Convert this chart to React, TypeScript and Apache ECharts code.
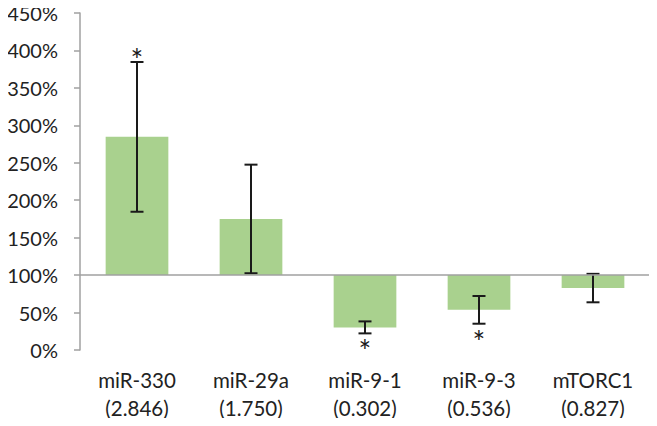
import React, { useEffect, useRef } from "react";
import * as echarts from "echarts";

const geneNames = ["miR-330", "miR-29a", "miR-9-1", "miR-9-3", "mTORC1"];
const foldChanges = [2.846, 1.75, 0.302, 0.536, 0.827];
const errorValues = [100, 72.5, 8, 18.5, 19];
const significant = [true, false, true, true, false];
const yTicks = [0, 50, 100, 150, 200, 250, 300, 350, 400, 450];

const FONT = "Lato, 'Noto Sans', sans-serif";

export default function App() {
  const ref = useRef<HTMLDivElement>(null);
  useEffect(() => {
    if (!ref.current) return;
    const chart = echarts.init(ref.current, null, { renderer: "svg" });
    const categories = geneNames.map((n, i) => `${n}\n(${foldChanges[i].toFixed(3)})`);
    const percents = foldChanges.map((f) => Math.round(f * 1000) / 10);
    const barData = percents.map((v, i) => [i, v]);
    const errData = percents.map((v, i) => [i, v, errorValues[i], significant[i] ? 1 : 0]);

    chart.setOption({
      animation: false,
      grid: { left: 80, right: 7, top: 10, bottom: 76, containLabel: false },
      xAxis: {
        type: "category",
        data: categories,
        axisLine: { show: false },
        axisTick: { show: false },
        axisLabel: {
          interval: 0,
          margin: 16,
          lineHeight: 28,
          fontSize: 20.5,
          color: "#222",
          fontFamily: FONT,
        },
      },
      yAxis: {
        type: "value",
        min: yTicks[0],
        max: yTicks[yTicks.length - 1],
        interval: 50,
        splitLine: { show: false },
        axisLine: { show: true, lineStyle: { color: "#a0a0a0", width: 1.5 } },
        axisTick: { show: true, length: 6, lineStyle: { color: "#a0a0a0", width: 1.5 } },
        axisLabel: {
          formatter: "{value}%",
          margin: 22,
          fontSize: 20,
          lineHeight: 20,
          padding: [6, 0, 0, 0],
          color: "#222",
          fontFamily: FONT,
        },
      },
      series: [
        {
          type: "custom",
          data: barData,
          z: 2,
          renderItem: (params: any, api: any) => {
            const i = api.value(0);
            const v = api.value(1);
            const base = api.coord([i, 100]);
            const top = api.coord([i, v]);
            const w = api.size([1, 0])[0] * 0.55;
            return {
              type: "rect",
              shape: {
                x: base[0] - w / 2,
                y: Math.min(base[1], top[1]),
                width: w,
                height: Math.abs(base[1] - top[1]),
              },
              style: { fill: "#A9D18E" },
            };
          },
          markLine: {
            silent: true,
            symbol: ["none", "none"],
            label: { show: false },
            lineStyle: { color: "#a0a0a0", width: 1.5, type: "solid" },
            data: [{ yAxis: 100 }],
          },
        },
        {
          type: "custom",
          data: errData,
          z: 4,
          renderItem: (params: any, api: any) => {
            const i = api.value(0);
            const v = api.value(1);
            const e = api.value(2);
            const sig = api.value(3);
            const hi = api.coord([i, v + e]);
            const lo = api.coord([i, v - e]);
            const x = hi[0];
            const cap = 6.5;
            const stroke = { stroke: "#1a1a1a", lineWidth: 2 };
            const children: any[] = [
              { type: "line", shape: { x1: x, y1: hi[1], x2: x, y2: lo[1] }, style: stroke },
              { type: "line", shape: { x1: x - cap, y1: hi[1], x2: x + cap, y2: hi[1] }, style: stroke },
              { type: "line", shape: { x1: x - cap, y1: lo[1], x2: x + cap, y2: lo[1] }, style: stroke },
            ];
            if (sig) {
              const above = v > 100;
              children.push({
                type: "text",
                style: {
                  text: "*",
                  x: x,
                  y: above ? hi[1] - 3 : lo[1] + 17,
                  align: "center",
                  verticalAlign: "middle",
                  fontSize: 30,
                  fontFamily: FONT,
                  fill: "#1a1a1a",
                },
              });
            }
            return { type: "group", children };
          },
        },
      ],
    });
    return () => chart.dispose();
  }, []);
  return <div ref={ref} style={{ width: 657, height: 426, margin: "-8px", background: "#fff" }} />;
}
